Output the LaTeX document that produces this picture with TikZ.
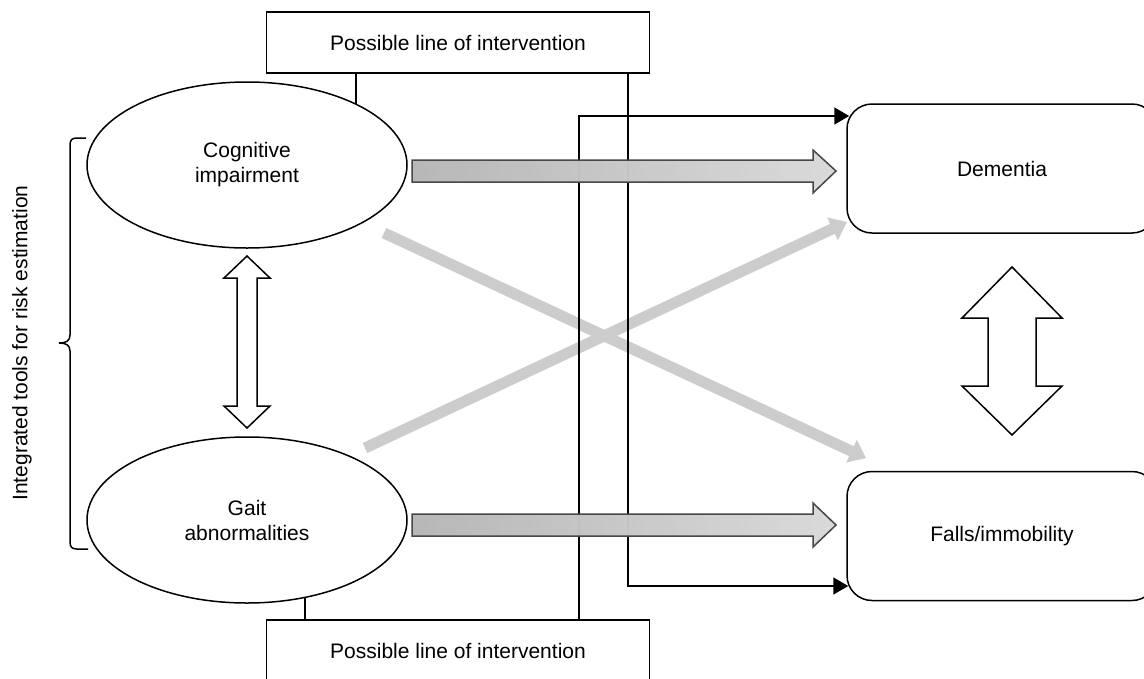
\documentclass[tikz,border=0pt]{standalone}
\usepackage{fontspec}
\setmainfont{Liberation Sans}
\usetikzlibrary{shapes.geometric,arrows.meta}
\begin{document}
\begin{tikzpicture}[x=1pt,y=-1pt,
  font=\fontsize{21}{25}\selectfont,
  ibox/.style={draw, line width=1.5pt, minimum width=383pt, minimum height=61pt, inner sep=0pt},
  oval/.style={ellipse, draw, line width=1.5pt, minimum width=320pt, minimum height=166pt, inner sep=0pt, align=center},
  outcome/.style={draw, rounded corners=25pt, line width=1.5pt, minimum width=310pt, minimum height=129pt, inner sep=0pt},
  link/.style={line width=1.5pt},
  linkarrow/.style={link, -{Triangle[length=15pt,width=17pt]}},
  cross/.style={line width=11pt, draw=black!20, -{Triangle[length=16pt,width=24pt]}},
  bigarrow/.style={draw=black!72, line width=1.5pt, left color=black!18, right color=black!2, fill opacity=0.85, draw opacity=1},
  dblarrow/.style={draw, line width=1.5pt, fill=white},
  brace/.style={line width=1.5pt}
]
\useasboundingbox (0,0) rectangle (1144,678);
\fill[white] (0,0) rectangle (1144,678);

% nodes
\node[ibox] (top) at (458,42.5) {Possible line of intervention};
\node[ibox] (bot) at (458,650.5) {Possible line of intervention};
\node[oval] (cog) at (247,165) {Cognitive\\impairment};
\node[oval] (gait) at (247,520) {Gait\\abnormalities};
\node[outcome] (dem) at (1002,168.5) {Dementia};
\node[outcome] (falls) at (1002,536) {Falls/immobility};
\node[rotate=90] (lbl) at (22,343) {Integrated tools for risk estimation};

% brace
\draw[brace] (86,138) -- (77,138) .. controls (72,138) and (70,140) .. (70,145)
  -- (70,335) .. controls (70,341) and (66,343) .. (59,343)
  .. controls (66,343) and (70,345) .. (70,351)
  -- (70,542) .. controls (70,547) and (72,549) .. (77,549) -- (88,549);

% gray crossing arrows
\coordinate (x1s) at (384,233);
\coordinate (x1e) at (866,458);
\coordinate (x2s) at (365,448);
\coordinate (x2e) at (847,222);
\draw[cross] (x1s) -- (x1e);
\draw[cross] (x2s) -- (x2e);

% intervention lines
\coordinate (t1) at (356,104);
\draw[link] (top.south -| t1) -- (t1);
\coordinate (g1) at (305,597);
\draw[link] (g1) -- (bot.north -| g1);
\coordinate (r1) at (628,586);
\draw[linkarrow, shorten >=-2pt] (top.south -| r1) |- (falls.west |- r1);
\coordinate (l1) at (579,116);
\draw[linkarrow, shorten >=-3pt] (bot.north -| l1) |- (dem.west |- l1);

% gradient arrows
\filldraw[bigarrow] (412,160) -- (813,160) -- (813,150) -- (836,171) -- (813,193) -- (813,182) -- (412,182) -- cycle;
\filldraw[bigarrow] (412,514) -- (813,514) -- (813,503) -- (836,525) -- (813,547) -- (813,536) -- (412,536) -- cycle;

% double arrows
\filldraw[dblarrow] (247,256) -- (270,278) -- (257,278) -- (257,406) -- (270,406) -- (247,428)
  -- (224,406) -- (237,406) -- (237,278) -- (224,278) -- cycle;
\filldraw[dblarrow] (1012,267) -- (1062,318) -- (1036,318) -- (1036,386) -- (1062,386) -- (1012,435)
  -- (962,386) -- (988,386) -- (988,318) -- (962,318) -- cycle;
\end{tikzpicture}
\end{document}
